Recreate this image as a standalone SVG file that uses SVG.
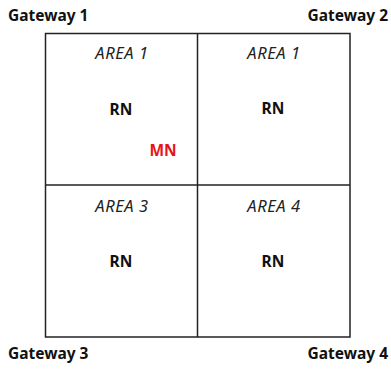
<svg xmlns="http://www.w3.org/2000/svg" width="391" height="371" viewBox="0 0 391 371">
  <style>
    .gw { font-family: "Noto Sans", "Open Sans", "Liberation Sans", sans-serif; font-weight: bold; font-size: 15.5px; fill: #111; }
    .area { font-family: "Noto Sans", "Open Sans", "Liberation Sans", sans-serif; font-style: italic; font-weight: normal; font-size: 16.5px; letter-spacing: 0.6px; fill: #222; text-anchor: middle; }
    .rn { font-family: "Noto Sans", "Open Sans", "Liberation Sans", sans-serif; font-weight: bold; font-size: 15.5px; fill: #111; text-anchor: middle; }
    .mn { font-family: "Noto Sans", "Open Sans", "Liberation Sans", sans-serif; font-weight: bold; font-size: 15.5px; fill: #e8141a; text-anchor: middle; }
    .grid { fill: none; stroke: #222; stroke-width: 1.5; }
  </style>
  <rect width="391" height="371" fill="#fff"/>

  <!-- grid of four areas -->
  <g id="grid">
    <rect class="grid" x="45.5" y="33.5" width="304.5" height="303.5"/>
    <line class="grid" x1="197.5" y1="33.5" x2="197.5" y2="337"/>
    <line class="grid" x1="45.5" y1="185" x2="350" y2="185"/>
  </g>

  <!-- gateways at the corners -->
  <g id="gateway1"><text class="gw" x="8" y="21">Gateway 1</text></g>
  <g id="gateway2"><text class="gw" x="388" y="21" text-anchor="end">Gateway 2</text></g>
  <g id="gateway3"><text class="gw" x="8" y="359">Gateway 3</text></g>
  <g id="gateway4"><text class="gw" x="388" y="359" text-anchor="end">Gateway 4</text></g>

  <!-- area contents -->
  <g id="area-top-left">
    <text class="area" x="122" y="59">AREA 1</text>
    <text class="rn" x="121" y="115">RN</text>
  </g>
  <g id="mn"><text class="mn" x="163" y="156">MN</text></g>
  <g id="area-top-right">
    <text class="area" x="274" y="59">AREA 1</text>
    <text class="rn" x="273" y="114">RN</text>
  </g>
  <g id="area-bottom-left">
    <text class="area" x="122" y="212">AREA 3</text>
    <text class="rn" x="121" y="267">RN</text>
  </g>
  <g id="area-bottom-right">
    <text class="area" x="274" y="212">AREA 4</text>
    <text class="rn" x="273" y="267">RN</text>
  </g>
</svg>
